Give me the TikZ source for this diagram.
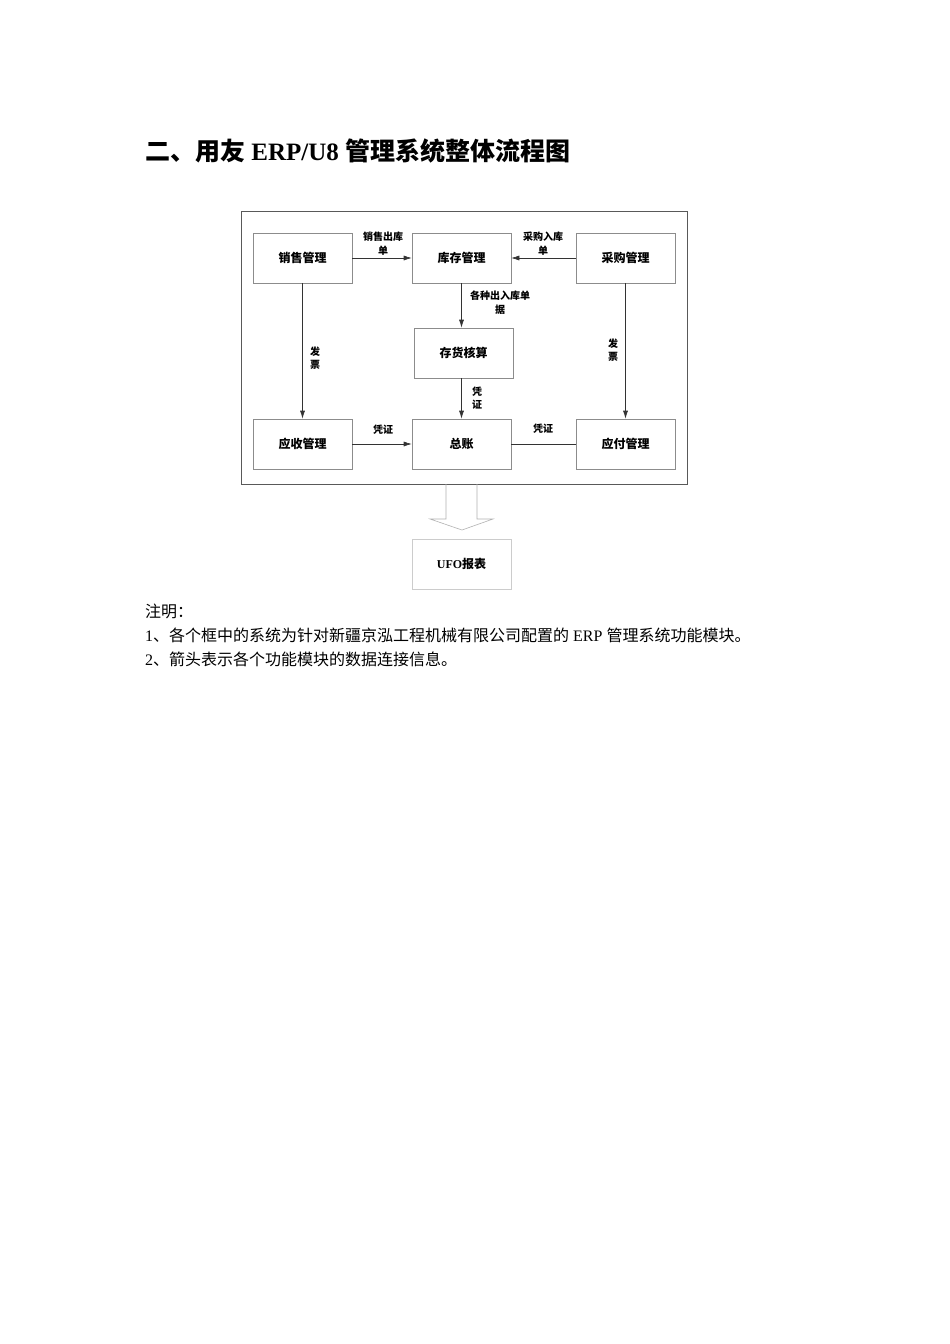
\documentclass[tikz,border=0pt]{standalone}
\usepackage{fontspec}
\setmainfont{Liberation Serif}
\newfontfamily\cjk{Noto Sans CJK SC}
\usetikzlibrary{arrows.meta,calc}
\begin{document}
\begin{tikzpicture}[x=1pt,y=-1pt,
  box/.style={draw=black!45,line width=0.6pt,minimum width=99pt,minimum height=50pt,inner sep=0pt,font=\fontsize{12}{14}\selectfont\cjk\bfseries},
  lab/.style={font=\fontsize{10}{13.5}\selectfont\cjk\bfseries,align=center,inner sep=0pt},
  arr/.style={draw=black!80,line width=0.6pt,-{Latex[length=8pt,width=5pt]}},
  ln/.style={draw=black!80,line width=0.6pt},
  note/.style={font=\fontsize{16}{18}\selectfont,anchor=base west,inner sep=0pt}]
\useasboundingbox[fill=white] (0,0) rectangle (950,1344);
% title
\node[anchor=base west,inner sep=0pt,font=\fontsize{25}{28}\selectfont] (title) at (145,160)
  {{\cjk\bfseries 二、用友} \textbf{ERP/U8} {\cjk\bfseries 管理系统整体流程图}};
% frame
\node[draw=black!65,line width=0.8pt,minimum width=446pt,minimum height=273pt,inner sep=0pt] (frame) at (464,347.5) {};
% boxes
\node[box] (xs) at (302.5,258) {销售管理};
\node[box] (kc) at (461.5,258) {库存管理};
\node[box] (cg) at (625.5,258) {采购管理};
\node[box] (ch) at (463.5,353) {存货核算};
\node[box] (ys) at (302.5,444) {应收管理};
\node[box] (zz) at (461.5,444) {总账};
\node[box] (yf) at (625.5,444) {应付管理};
\node[box,draw=black!20] (ufo) at (461.5,564) {{\rmfamily UFO}报表};
% connectors
\draw[arr] (xs.east) -- (kc.west);
\draw[arr] (cg.west) -- (kc.east);
\draw[arr] (kc.south) -- (kc.south |- ch.north);
\draw[arr] (xs.south) -- (ys.north);
\draw[arr] (cg.south) -- (yf.north);
\draw[arr] (ch.south -| zz.north) -- (zz.north);
\draw[arr] (ys.east) -- (zz.west);
\draw[ln] (zz.east) -- (yf.west);
% labels
\node[lab] (l1) at (383,243.5) {销售出库\\单};
\node[lab] (l2) at (543,243.5) {采购入库\\单};
\node[lab] (l3) at (500,302.5) {各种出入库单\\据};
\node[lab] (l4) at (315,358) {发\\票};
\node[lab] (l5) at (613,350) {发\\票};
\node[lab] (l6) at (477,398) {凭\\证};
\node[lab] (l7) at (383,430) {凭证};
\node[lab] (l8) at (543,429) {凭证};
% hollow arrow
\coordinate (ha) at (446,484);
\coordinate (hb) at (477,484);
\draw[draw=black!30,line width=0.6pt] (ha) -- (446,519) -- (430,519) -- (462,530) -- (493,519) -- (477,519) -- (hb);
% notes
\node[note] (n0) at (145,617) {\cjk 注明：};
\node[note] (n1) at (145,641) {1{\cjk 、各个框中的系统为针对新疆京泓工程机械有限公司配置的} ERP {\cjk 管理系统功能模块。}};
\node[note] (n2) at (145,665) {2{\cjk 、箭头表示各个功能模块的数据连接信息。}};
\end{tikzpicture}
\end{document}
